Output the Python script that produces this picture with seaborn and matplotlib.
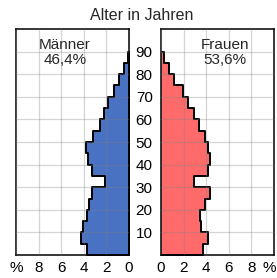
import matplotlib
matplotlib.use("Agg")
import matplotlib.pyplot as plt
import matplotlib.transforms as mtransforms
import seaborn as sns
import pandas as pd
import numpy as np

# ---- data (percent of total population, 5-year age groups) ----
age_start = [0, 5, 10, 15, 20, 25, 30, 35, 40, 45, 50, 55, 60, 65, 70, 75, 80, 85]
male =      [3.76, 4.25, 4.10, 3.72, 3.50, 3.30, 2.12, 3.30, 3.60, 3.77, 3.19, 2.57, 2.20, 1.83, 1.30, 0.88, 0.44, 0.12]
female =    [3.72, 4.12, 3.58, 3.45, 3.89, 4.38, 2.88, 4.19, 4.34, 4.19, 3.89, 3.40, 2.95, 2.39, 1.92, 1.12, 0.73, 0.29]
bin_edges = [0, 5, 10, 15, 20, 25, 30, 35, 40, 45, 50, 55, 60, 65, 70, 75, 80, 85, 90]
age_ticks = [10, 20, 30, 40, 50, 60, 70, 80, 90]
x_ticks = [0, 2, 4, 6, 8, 10]
x_ticklabels = ["0", "2", "4", "6", "8", "%"]
male_label = "Männer\n46,4%"
female_label = "Frauen\n53,6%"
title = "Alter in Jahren"

sns.set_style("white")
plt.rcParams["font.family"] = ["Liberation Sans", "DejaVu Sans"]

df = pd.DataFrame({"age": np.array(age_start) + 2.5, "male": male, "female": female})

W, H = 277, 278
fig = plt.figure(figsize=(W / 100, H / 100), dpi=100)
axL = fig.add_axes([16 / W, 23 / H, 113 / W, 226 / H])
axR = fig.add_axes([161 / W, 23 / H, 113 / W, 226 / H])

blue = "#4a72c2"
red = "#ff6b6b"

sns.histplot(data=df, y="age", weights="male", bins=bin_edges, element="step",
             fill=True, color=blue, alpha=1, edgecolor="black", linewidth=1.4, ax=axL)
sns.histplot(data=df, y="age", weights="female", bins=bin_edges, element="step",
             fill=True, color=red, alpha=1, edgecolor="black", linewidth=1.4, ax=axR)

for ax, lim in ((axL, (10, 0)), (axR, (0, 10))):
    ax.set_xlim(*lim)
    ax.set_ylim(0, 100)
    ax.set_xticks(x_ticks)
    ax.set_xticklabels(x_ticklabels)
    ax.set_yticks(age_ticks)
    ax.set_xlabel("")
    ax.set_ylabel("")
    ax.set_axisbelow(False)
    ax.grid(True, color="#808080", alpha=0.33, linewidth=0.9)
    for s in ax.spines.values():
        s.set_color("black")
        s.set_linewidth(1.1)
    ax.tick_params(length=0, labelsize=11, pad=4, colors="black")

axL.set_yticklabels([])
axR.set_yticklabels([str(a) for a in age_ticks])
axR.tick_params(axis="y", pad=6)

# nudge the right-most "%" label inward so it stays inside the figure
lbl = axR.get_xticklabels()[-1]
lbl.set_transform(lbl.get_transform() + mtransforms.ScaledTranslation(-5 / 100, 0, fig.dpi_scale_trans))

axL.text(0.434, 0.895, male_label, transform=axL.transAxes, ha="center", va="center",
         fontsize=11, linespacing=1.1)
axR.text(0.566, 0.895, female_label, transform=axR.transAxes, ha="center", va="center",
         fontsize=11, linespacing=1.1)

fig.text(142 / W, 1 - 16 / H, title, ha="center", va="center", fontsize=11.5)

fig.savefig("out.png", dpi=100)
